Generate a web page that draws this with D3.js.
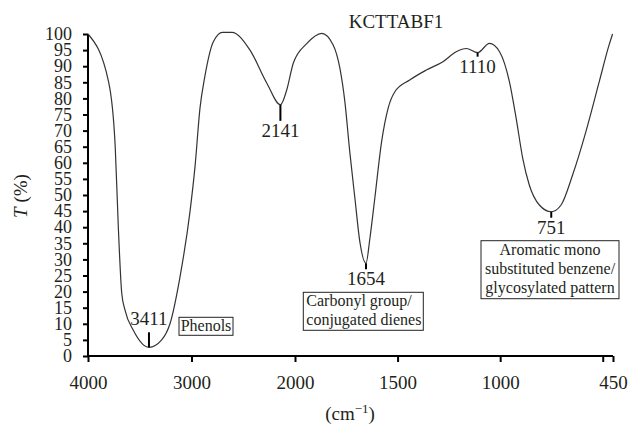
<!DOCTYPE html>
<html>
<head>
<meta charset="utf-8">
<script src="https://cdn.jsdelivr.net/npm/d3@7"></script>
<style>
  body { margin: 0; background: #fff; }
  svg { display: block; font-family: "Liberation Serif", "DejaVu Serif", serif; }
</style>
</head>
<body>
<svg id="chart" width="631" height="425"></svg>
<script>
// spectrum
const wavenumber = [4000, 3800, 3737, 3707, 3674, 3643, 3562, 3411, 3288, 3208, 3111, 3014, 2966, 2918,
  2870, 2789, 2700, 2610, 2435, 2273, 2141, 2080, 2016, 1943, 1870, 1814, 1781, 1757, 1733, 1708,
  1684, 1654, 1635, 1611, 1578, 1546, 1514, 1441, 1360, 1279, 1214, 1165, 1110, 1052, 1003, 955,
  922, 890, 858, 809, 751, 703, 647, 582, 517, 469, 452];
const transmittance = [100, 85, 65, 40, 19.5, 14.3, 8, 2.7, 5, 10, 24.6, 45, 58.8, 77,
  87, 97.6, 100.5, 100.5, 95, 84.8, 78, 82.6, 91, 97, 100.2, 96.6, 89.3, 79, 63.4, 49,
  35.5, 28.8, 36.5, 49, 66.5, 77, 82, 85.7, 88.8, 91.4, 94.5, 95.5, 94.2, 97.1, 94.5, 85.2,
  73.8, 61.4, 53.1, 46.9, 44.8, 46.9, 56.2, 69.7, 85.2, 96.6, 100];

const peakWn = [3411, 2141, 1654, 1110, 751];
const peakT = [2.7, 78, 28.8, 94.2, 44.8];
const peakLabelAbove = [true, false, false, false, false];

const xTicks = [4000, 3000, 2000, 1500, 1000, 500, 450];
const xTickLabels = ["4000", "3000", "2000", "1500", "1000", "", "450"];
const yTicks = d3.range(0, 101, 5);

const title = "KCTTABF1";
const boxes = [
  { peak: 3411, lines: ["Phenols"] },
  { peak: 1654, lines: ["Carbonyl group/", "conjugated dienes"] },
  { peak: 751, lines: ["Aromatic mono", "substituted benzene/", "glycosylated pattern"] }
];

const ink = "#231f20";
const serif = "Liberation Serif, DejaVu Serif, serif";
const svg = d3.select("#chart");

// FTIR style axis: 4000-2000 region drawn at half scale
const x = d3.scaleLinear().domain([4000, 2000, 450]).range([88, 295, 613]);
const y = d3.scaleLinear().domain([0, 100]).range([356, 34]);

const data = wavenumber.map((w, i) => ({ w, t: transmittance[i] }));

const xAxis = (g) =>
  g.attr("transform", `translate(0,${y(0)})`)
    .call(d3.axisBottom(x).tickValues(xTicks).tickSize(6).tickPadding(14)
      .tickFormat((d, i) => xTickLabels[i]))
    .attr("font-family", serif).attr("font-size", 19)
    .call((g) => g.select(".domain").attr("d", `M${x(4000)},0H${x(450)}`));

const yAxis = (g) =>
  g.attr("transform", `translate(${x(4000)},0)`)
    .call(d3.axisLeft(y).tickValues(yTicks).tickSize(5).tickPadding(11))
    .attr("font-family", serif).attr("font-size", 18)
    .call((g) => g.select(".domain").attr("d", `M0,${y(0)}V${y(100)}`));

svg.append("g").attr("class", "x-axis").call(xAxis);
svg.append("g").attr("class", "y-axis").call(yAxis);

svg.selectAll(".domain, .tick line").attr("stroke", "#000").attr("stroke-width", 2);
svg.selectAll(".tick text").attr("fill", ink);

svg.append("path")
  .datum(data)
  .attr("fill", "none")
  .attr("stroke", "#333")
  .attr("stroke-width", 1.2)
  .attr("d", d3.line().x((d) => x(d.w)).y((d) => y(d.t)).curve(d3.curveMonotoneX));

// peak markers and labels
const peaks = svg.append("g").attr("class", "peaks");
peakWn.forEach((w, i) => {
  const px = x(w), py = y(peakT[i]);
  const above = peakLabelAbove[i];
  const len = w === 1110 ? 4 : (above ? 15 : 6 + (w === 2141 ? 10 : 0));
  peaks.append("line")
    .attr("x1", px).attr("x2", px)
    .attr("y1", above ? py - len : py)
    .attr("y2", above ? py : py + len)
    .attr("stroke", "#000").attr("stroke-width", 2);
  peaks.append("text")
    .attr("x", px)
    .attr("y", above ? py - len - 7 : py + len + 16)
    .attr("text-anchor", "middle")
    .attr("fill", ink)
    .style("font-size", "19px")
    .text(w);
});

// annotation boxes
const boxLayout = {
  3411: { x: 179, y: 317.3, w: 54, h: 18, anchor: "middle", tx: 27, base: 13.4 },
  1654: { x: 303.3, y: 292.3, w: 120, h: 38, anchor: "start", tx: 3, base: 13.7 },
  751: { x: 481, y: 240.7, w: 138, h: 58, anchor: "middle", tx: 69, base: 14.3 }
};
boxes.forEach((b) => {
  const L = boxLayout[b.peak];
  const g = svg.append("g").attr("transform", `translate(${L.x},${L.y})`);
  g.append("rect").attr("width", L.w).attr("height", L.h)
    .attr("fill", "#fff").attr("stroke", "#222").attr("stroke-width", 1);
  g.selectAll("text").data(b.lines).join("text")
    .attr("x", L.tx)
    .attr("y", (d, i) => L.base + i * 18.8)
    .attr("text-anchor", L.anchor)
    .attr("fill", ink)
    .style("font-size", "16px")
    .text((d) => d);
});

// titles
svg.append("text")
  .attr("x", 396).attr("y", 28)
  .attr("text-anchor", "middle").attr("fill", ink)
  .style("font-size", "19px")
  .text(title);

const yLabel = svg.append("text")
  .attr("transform", "translate(27,196) rotate(-90)")
  .attr("text-anchor", "middle").attr("fill", ink)
  .style("font-size", "19px");
yLabel.append("tspan").style("font-style", "italic").text("T");
yLabel.append("tspan").text(" (%)");

const xLabel = svg.append("text")
  .attr("x", 350).attr("y", 420)
  .attr("text-anchor", "middle").attr("fill", ink)
  .style("font-size", "19px");
xLabel.append("tspan").text("(cm");
xLabel.append("tspan").attr("dy", -7).style("font-size", "13px").text("\u22121");
xLabel.append("tspan").attr("dy", 7).text(")");
</script>
</body>
</html>
